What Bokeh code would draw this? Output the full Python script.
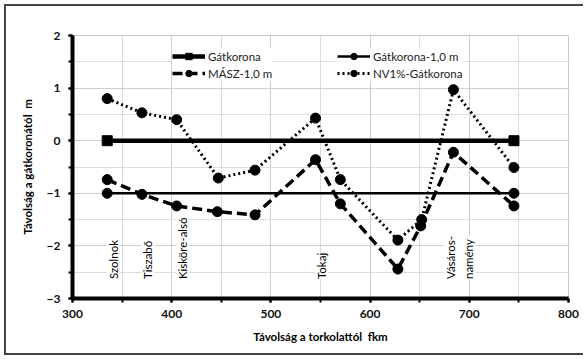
import math
from bokeh.plotting import figure
from bokeh.models import Legend, LegendItem, SingleIntervalTicker, ColumnDataSource
from bokeh.core.properties import value
from bokeh.embed import file_html
from bokeh.resources import INLINE

# ---- data ----
gat_x = [335, 745]
gat_y = [0, 0]
gat1_x = [335, 745]
gat1_y = [-1, -1]
masz_x = [335, 370, 405, 446, 484, 545, 570, 628, 651, 684, 745]
masz_y = [-0.74, -1.02, -1.24, -1.35, -1.41, -0.36, -1.20, -2.44, -1.62, -0.22, -1.24]
nv_x = [335, 370, 405, 447, 484, 545, 570, 628, 652, 684, 745]
nv_y = [0.80, 0.53, 0.40, -0.71, -0.56, 0.43, -0.74, -1.89, -1.50, 0.97, -0.51]
station_names = ["Szolnok", "Tiszabő", "Kisköre-alsó", "Tokaj", "Vásáros-\nnamény"]
station_km = [335, 370, 405, 545, 684]
label_base = -2.63

FONT = "Lato"

p = figure(width=579, height=351, x_range=(300, 800), y_range=(-3, 2),
           output_backend="svg", toolbar_location=None,
           min_border_left=66, min_border_right=17, min_border_top=29, min_border_bottom=59)
p.styles = {"margin-left": "4px", "margin-top": "4px",
            "border-left": "2px solid #444", "border-top": "2px solid #444",
            "border-bottom": "2px solid #444"}
p.background_fill_color = "white"
p.border_fill_color = "white"
p.outline_line_color = "#c8c8c8"
p.outline_line_width = 1

p.xaxis.ticker = SingleIntervalTicker(interval=100, num_minor_ticks=2)
p.yaxis.ticker = SingleIntervalTicker(interval=1, num_minor_ticks=2)
for g in (p.xgrid, p.ygrid):
    g.grid_line_color = "#cfcfcf"
    g.grid_line_width = 1
    g.minor_grid_line_color = "#dcdcdc"
    g.minor_grid_line_width = 1

for ax in (p.xaxis, p.yaxis):
    ax.axis_line_width = 4
    ax.axis_line_color = "black"
    ax.major_tick_line_width = 2
    ax.minor_tick_line_width = 2
    ax.major_tick_out = 4
    ax.major_tick_in = 0
    ax.minor_tick_out = 4
    ax.minor_tick_in = 0
    ax.major_label_text_font = FONT
    ax.major_label_text_font_size = "12px"
    ax.major_label_text_font_style = "bold"
    ax.major_label_text_color = "#111"
    ax.axis_label_text_font = FONT
    ax.axis_label_text_font_size = "11.5px"
    ax.axis_label_text_font_style = "bold"
    ax.axis_label_text_color = "black"

p.xaxis.axis_label = "Távolság a torkolattól\u00a0 fkm"
p.yaxis.axis_label = "Távolság a gátkoronától\u00a0 m"
p.xaxis.major_label_standoff = 7
p.yaxis.major_label_standoff = 8
p.xaxis.axis_label_standoff = 9
p.yaxis.axis_label_standoff = 10

r_gat = p.line(gat_x, gat_y, line_color="black", line_width=4.5)
s_gat = p.scatter(gat_x, gat_y, marker="square", size=10, color="black")
r_gat1 = p.line(gat1_x, gat1_y, line_color="black", line_width=2.5)
s_gat1 = p.scatter(gat1_x, gat1_y, marker="circle", size=10, color="black")
r_masz = p.line(masz_x, masz_y, line_color="black", line_width=3.5, line_dash="10 5")
s_masz = p.scatter(masz_x, masz_y, marker="circle", size=10, color="black")
r_nv = p.line(nv_x, nv_y, line_color="black", line_width=3, line_dash="2 3")
s_nv = p.scatter(nv_x, nv_y, marker="circle", size=10, color="black")

src = ColumnDataSource(dict(x=station_km, y=[label_base] * len(station_km), t=station_names))
p.text(x="x", y="y", text="t", source=src, angle=math.pi / 2, x_offset=6,
       text_align="left", text_baseline="middle", text_font=value(FONT),
       text_font_size="11.5px", text_color="black", text_line_height=1.4,
       background_fill_color="white")

common = dict(label_text_font=FONT, label_text_font_size="11.5px", label_text_color="#222",
              glyph_width=33, glyph_height=16, label_standoff=3, spacing=1,
              padding=0, margin=0, border_line_color=None,
              background_fill_color="white", background_fill_alpha=1)
leg1 = Legend(items=[LegendItem(label="Gátkorona", renderers=[r_gat, s_gat]),
                     LegendItem(label="MÁSZ-1,0 m", renderers=[r_masz, s_masz])],
              location=(100, 217), **common)
leg2 = Legend(items=[LegendItem(label="Gátkorona-1,0 m", renderers=[r_gat1, s_gat1]),
                     LegendItem(label="NV1%-Gátkorona", renderers=[r_nv, s_nv])],
              location=(265, 217), **common)
p.add_layout(leg1)
p.add_layout(leg2)

open("out.html", "w").write(file_html(p, INLINE))
